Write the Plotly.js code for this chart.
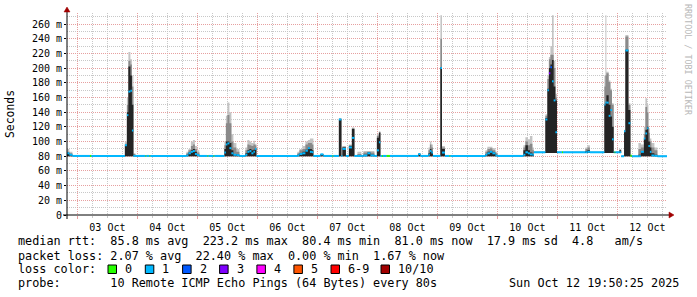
<!DOCTYPE html>
<html><head><meta charset="utf-8">
<script src="https://cdn.plot.ly/plotly-3.0.1.min.js"></script>
<style>html,body{margin:0;padding:0;background:#fff;} #chart{width:697px;height:297px;}</style>
</head><body><div id="chart"></div>
<script>
// ---- data ----
const times = [
 '2025-10-02 19:50','2025-10-02 20:48','2025-10-02 22:00',
 '2025-10-03 05:00','2025-10-03 05:36',
 '2025-10-03 19:00','2025-10-03 19:48','2025-10-03 20:24','2025-10-03 21:12','2025-10-03 21:48','2025-10-03 22:24','2025-10-03 23:12',
 '2025-10-04 03:12','2025-10-04 03:36','2025-10-04 04:48','2025-10-04 05:12',
 '2025-10-04 19:36','2025-10-04 20:24','2025-10-04 21:24','2025-10-04 22:12','2025-10-04 23:00','2025-10-04 23:48','2025-10-05 00:48',
 '2025-10-05 04:00','2025-10-05 04:24','2025-10-05 06:24','2025-10-05 06:48',
 '2025-10-05 10:48','2025-10-05 11:24','2025-10-05 12:00','2025-10-05 12:48','2025-10-05 13:36','2025-10-05 14:24','2025-10-05 15:36','2025-10-05 16:48',
 '2025-10-05 19:12','2025-10-05 20:00','2025-10-05 20:48','2025-10-05 21:36','2025-10-05 22:24','2025-10-05 23:00','2025-10-05 23:36',
 '2025-10-06 16:00','2025-10-06 16:48','2025-10-06 18:00','2025-10-06 19:12','2025-10-06 20:12','2025-10-06 21:00','2025-10-06 21:48','2025-10-06 22:24',
 '2025-10-07 01:12','2025-10-07 02:24','2025-10-07 06:00','2025-10-07 06:24',
 '2025-10-07 08:36','2025-10-07 09:36','2025-10-07 10:00','2025-10-07 11:24','2025-10-07 12:36','2025-10-07 13:48','2025-10-07 14:48',
 '2025-10-07 16:00','2025-10-07 17:36','2025-10-07 18:24','2025-10-07 20:00','2025-10-07 21:12','2025-10-07 22:48',
 '2025-10-07 23:48','2025-10-08 00:36','2025-10-08 01:12',
 '2025-10-08 01:48','2025-10-08 02:12','2025-10-08 03:36','2025-10-08 05:00',
 '2025-10-08 16:24','2025-10-08 17:12',
 '2025-10-08 20:24','2025-10-08 21:00','2025-10-08 21:36','2025-10-08 22:12',
 '2025-10-09 01:12','2025-10-09 01:50','2025-10-09 03:00','2025-10-09 04:48','2025-10-09 05:12',
 '2025-10-09 19:12','2025-10-09 20:00','2025-10-09 21:00','2025-10-09 22:00','2025-10-09 23:12','2025-10-10 00:00',
 '2025-10-10 10:24','2025-10-10 11:12','2025-10-10 12:12','2025-10-10 13:00','2025-10-10 14:00','2025-10-10 14:36',
 '2025-10-10 19:12','2025-10-10 20:00','2025-10-10 20:36','2025-10-10 21:12','2025-10-10 21:50','2025-10-10 22:30','2025-10-10 23:12','2025-10-10 23:50',
 '2025-10-11 01:50','2025-10-11 02:14',
 '2025-10-11 11:12','2025-10-11 12:00','2025-10-11 13:00',
 '2025-10-11 18:48','2025-10-11 19:12','2025-10-11 19:36','2025-10-11 20:30','2025-10-11 21:12','2025-10-11 21:50','2025-10-11 22:30','2025-10-11 22:48','2025-10-11 23:12',
 '2025-10-12 00:48','2025-10-12 01:30',
 '2025-10-12 02:40','2025-10-12 03:12','2025-10-12 04:24','2025-10-12 05:12','2025-10-12 05:48',
 '2025-10-12 08:24','2025-10-12 09:24','2025-10-12 10:36','2025-10-12 11:12','2025-10-12 11:53','2025-10-12 12:24','2025-10-12 13:00','2025-10-12 13:36','2025-10-12 14:48','2025-10-12 16:00','2025-10-12 19:50'
];
// median rtt (ms)
const median = [
 84,82,80.4,
 80.4,80.4,
 95,136,168,169,115,80.4,80.4,
 80.4,80.4,80.4,80.4,
 81,84,86,87,83,81.5,80.4,
 80.4,80.4,80.4,80.4,
 85,96,97.5,91,84,82,81.5,80.4,
 82,86,87,84,86,90,80.4,
 81,83,84,87.5,91,86,85.5,80.4,
 82.6,80.4,80.4,80.4,
 130,80.4,90,80.4,92,105,80.4,
 80.4,80.4,81,84,81,80.4,
 88,99,80.4,
 80.4,80.4,80.4,80.4,
 83,80.4,
 82,87,85,80.4,
 200,85,80.4,80.4,80.4,
 82,84,86,84,81,80.4,
 82,85.4,84,82.6,82,85.4,
 130,170,193,201,182,156,112.6,85.4,
 85.4,85.4,
 85.4,86,85.4,
 150,153,153,135,143,103,85.4,85.4,85.4,
 85.4,80,
 114,224,125,80.7,80,
 80,86,104,111,118,94,86,81,80.5,80,80
];
// smoke: lowest ping, top of dark band, top of mid band, highest ping (ms)
const smokeMin = [
 80,80,80, 80,80, 80,80,80,80,80,80,80, 80,80,80,80, 80,80,80,80,80,80,80, 80,80,80,80,
 80,80,80,80,80,80,80,80, 80,80,80,80,80,80,80, 80,80,80,80,80,80,80,80, 80,80,80,80,
 80,80,80,80,80,80,80, 80,80,80,80,80,80, 80,80,80, 80,80,80,80, 80,80, 80,80,80,80,
 80,80,80,80,80, 80,80,80,80,80,80, 80,80,80,80,80,84.5,
 84.5,84.5,84.5,84.5,84.5,84.5,84.5,84.5, 84.5,84.5, 84.5,84.5,84.5,
 84.5,84.5,84.5,84.5,84.5,84.5,84.5,84.5,84.5, 84.5,79.5,
 80,80,80,80,79.5, 79.5,80,80,80,80,80,80,80,80,79.5,79.5
];
const smokeDark = [
 84,82,80.6, 80.6,80.6, 95,140,202,190,150,80.6,80.6, 80.6,80.6,80.6,80.6,
 82,85,88,90,86,82,80.6, 80.6,80.6,80.6,80.6,
 90,100,100,98,88,83,82,80.6, 84,88,90,88,89,91,80.6,
 82,84,86,89,92,90,88,80.6, 82.6,80.6,80.6,80.6,
 130,80.6,92,80.6,94,117,80.6, 81,80.6,82,85,82,80.6, 105,112,80.6,
 80.6,80.6,80.6,80.6, 83,80.6, 84,90,86,80.6,
 201,90,80.6,80.6,80.6, 83,86,87,85,82,80.6, 88,95,88,85,83,85.6,
 132,172,200,205,211,175,156,85.6, 85.6,85.6, 87,88,85.6,
 150,152,163,150,134,120,85.6,85.6,85.6, 88,80.2,
 113,225,143,81,80.2, 82,87,104,116,120,100,92,84,82,80.2,80.2
];
const smokeMid = [
 86,84,81, 81,81, 97,150,210,205,175,83,81, 81,81,81,81,
 84,88,94,96,90,85,81, 81,81,81,81,
 95,125,136,125,100,92,86,81, 88,96,95,94,96,95,81,
 84,88,90,96,98,98,96,81, 83,81,81,81,
 131,81,93,81,95,118,81, 83,81,85,86,85,81, 108,113,81,
 81,81,81,81, 84,81, 88,96,92,81,
 240,92,81,81,81, 86,90,91,88,84,81, 92,100,95,97,88,86,
 135,185,212,218,218,200,160,86, 86,86, 90,92,86,
 175,190,193,181,170,150,86,86,86, 89,80.6,
 115,243,150,81,80.6, 90,92,110,147,140,112,100,92,88,80.6,80.6
];
const smokeMax = [
 90,86,81, 81,81, 100,160,222,212,190,84,81, 81,81,81,81,
 86,90,100,102,94,88,81, 81,81,81,81,
 100,135,153,140,110,98,90,81, 92,102,100,98,101,97,81,
 86,90,94,100,102,104,104,81, 83,81,81,81,
 132,81,94,81,96,119,81, 86,81,87,87,87,81, 110,114,81,
 81,81,81,81, 84,81, 92,100,96,81,
 272,94,81,81,81, 88,93,93,91,86,81, 95,106,103,107.6,92,86,
 137,190,215,230,272,210,165,86, 86,86, 92,95,86,
 190,272,195,183,172,152,86,86,86, 90,80.6,
 116,245,152,81,80.6, 98,96,120,159,150,118,104,98,92,80.6,80.6
];
// loss class of each sample (index into lossLabels)
const loss = [
 1,1,1, 0,1, 1,1,1,1,1,1,1, 0,1,0,1,
 1,1,1,1,1,1,1, 0,1,0,1,
 1,1,1,1,1,1,1,1, 1,1,1,1,1,1,1,
 1,1,1,1,1,1,1,1, 1,1,0,1,
 1,1,1,1,1,1,1, 1,1,1,1,1,1, 1,1,1,
 0,1,0,1, 1,1, 1,1,1,1,
 1,1,1,0,1, 1,1,1,1,1,1, 1,1,1,1,1,1,
 1,1,3,2,1,1,1,1, 0,1, 1,1,1,
 1,1,1,1,1,1,1,0,1, 1,1,
 1,1,1,0,1, 1,1,1,1,1,1,1,1,1,1,1
];
const lossLabels = ['0','1','2','3','4','5','6-9','10/10'];
const lossColors = ['#26ff00','#00b8ff','#0059ff','#7e00ff','#ff00ff','#ff5500','#ff0000','#a10000'];
const yTickVals = [0,20,40,60,80,100,120,140,160,180,200,220,240,260];
const yTickText = ['0','20 m','40 m','60 m','80 m','100 m','120 m','140 m','160 m','180 m','200 m','220 m','240 m','260 m'];
const rttStats = ['85.8 ms avg','223.2 ms max','80.4 ms min','81.0 ms now','17.9 ms sd','4.8   am/s'];
const lossStats = ['2.07 % avg','22.40 % max','0.00 % min','1.67 % now'];
const probeText = '10 Remote ICMP Echo Pings (64 Bytes) every 80s';
const stampText = 'Sun Oct 12 19:50:25 2025';
const xStart = '2025-10-02 19:50:25', xEnd = '2025-10-12 19:50:25';

// ---- layout helpers (pixel -> paper) ----
const L = 67, R = 667, T = 13, B = 215;
const px = p => (p - L) / (R - L);
const py = q => (B - q) / (B - T);
const nb = s => s.replace(/ /g, '\u00a0');
const MONO = 'DejaVu Sans Mono';

// ---- traces ----
const traces = [];
function band(top, color) {
  traces.push({x: times, y: smokeMin, type: 'scatter', mode: 'lines', line: {width: 0, shape: 'hv'}, hoverinfo: 'skip'});
  traces.push({x: times, y: top, type: 'scatter', mode: 'lines', line: {width: 0, shape: 'hv'}, fill: 'tonexty', fillcolor: color, hoverinfo: 'skip'});
}
band(smokeMax, '#c4c4c4');
band(smokeMid, '#8a8a8a');
band(smokeDark, '#242424');
lossColors.forEach((c, k) => {
  const xs = [], ys = [];
  for (let i = 0; i < times.length - 1; i++) {
    if (loss[i] !== k) continue;
    xs.push(times[i], times[i + 1], null);
    ys.push(median[i], median[i], null);
  }
  if (xs.length) traces.push({x: xs, y: ys, type: 'scatter', mode: 'lines', line: {color: c, width: 2}, hoverinfo: 'skip'});
});

// ---- decorations ----
const shapes = [
  {type: 'line', xref: 'paper', yref: 'paper', x0: px(63), x1: px(670), y0: 0, y1: 0, line: {color: '#000', width: 1}},
  {type: 'line', xref: 'paper', yref: 'paper', x0: 0, x1: 0, y0: py(219), y1: py(10), line: {color: '#000', width: 1}},
  {type: 'path', xref: 'paper', yref: 'paper', path: `M ${px(64)},${py(12)} L ${px(70)},${py(12)} L ${px(67)},${py(7)} Z`, fillcolor: '#a00000', line: {color: '#a00000', width: 0.5}},
  {type: 'path', xref: 'paper', yref: 'paper', path: `M ${px(669)},${py(212)} L ${px(669)},${py(218)} L ${px(674)},${py(215)} Z`, fillcolor: '#a00000', line: {color: '#a00000', width: 0.5}}
];
const swatchX = [108, 145.3, 182.6, 219.6, 256.9, 293.9, 331, 381];
const annotations = [];
const legY = [241.5, 255.5, 269.3, 283];
const F = {family: MONO, size: 11.8, color: '#000'};
function txt(x, y, s, anchor) {
  annotations.push({xref: 'paper', yref: 'paper', x: px(x), y: py(y), text: nb(s), showarrow: false, xanchor: anchor || 'left', yanchor: 'middle', font: F});
}
txt(16, legY[0], 'median rtt:  ' + rttStats.join('  '));
txt(16, legY[1], 'packet loss: ' + lossStats.join('  '));
txt(16, legY[2], 'loss color:');
txt(16, legY[3], 'probe:       ' + probeText);
txt(681, legY[3], stampText, 'right');
lossLabels.forEach((lab, k) => {
  shapes.push({type: 'rect', xref: 'paper', yref: 'paper', x0: px(swatchX[k]), x1: px(swatchX[k] + 8.5), y0: py(273.5), y1: py(265), fillcolor: lossColors[k], line: {color: '#000', width: 1}});
  txt(swatchX[k] + 15, legY[2], lab);
});
annotations.push({xref: 'paper', yref: 'paper', x: px(10), y: py(114), text: 'Seconds', textangle: -90, showarrow: false, xanchor: 'center', yanchor: 'middle', font: {family: MONO, size: 11.4, color: '#000'}});
annotations.push({xref: 'paper', yref: 'paper', x: px(688), y: py(60), text: nb('RRDTOOL / TOBI OETIKER'), textangle: 90, showarrow: false, xanchor: 'center', yanchor: 'middle', font: {family: MONO, size: 8.4, color: '#b8b8b8'}});

const majorGrid = '#e6a0a0', minorGrid = '#c8c8c8';
const layout = {
  width: 697, height: 297,
  margin: {l: L, r: 697 - R, t: T, b: 297 - B, pad: 0},
  paper_bgcolor: '#fff', plot_bgcolor: '#fff',
  showlegend: false,
  font: {family: MONO, size: 10, color: '#000'},
  xaxis: {
    type: 'date', range: [xStart, xEnd], tick0: '2025-10-03', dtick: 86400000,
    ticklabelmode: 'period', tickformat: '%d %b',
    showgrid: true, gridcolor: majorGrid, griddash: '1px,1px', gridwidth: 1,
    ticks: 'outside', ticklen: 3, tickcolor: majorGrid,
    minor: {dtick: 21600000, tick0: '2025-10-03', showgrid: true, gridcolor: minorGrid, griddash: '1px,1px', ticks: 'outside', ticklen: 2, tickcolor: minorGrid},
    zeroline: false, showline: false, fixedrange: true,
    tickfont: {family: MONO, size: 10, color: '#000'}
  },
  yaxis: {
    range: [0, 275], tickmode: 'array', tickvals: yTickVals, ticktext: yTickText,
    showgrid: true, gridcolor: majorGrid, griddash: '1px,1px', gridwidth: 1,
    ticks: 'outside', ticklen: 2, tickcolor: '#000',
    minor: {dtick: 10, tick0: 0, showgrid: true, gridcolor: minorGrid, griddash: '1px,1px'},
    zeroline: false, showline: false, fixedrange: true,
    tickfont: {family: MONO, size: 10, color: '#000'}
  },
  shapes: shapes,
  annotations: annotations
};
Plotly.newPlot('chart', traces, layout, {staticPlot: true, displayModeBar: false});
</script>
</body></html>
